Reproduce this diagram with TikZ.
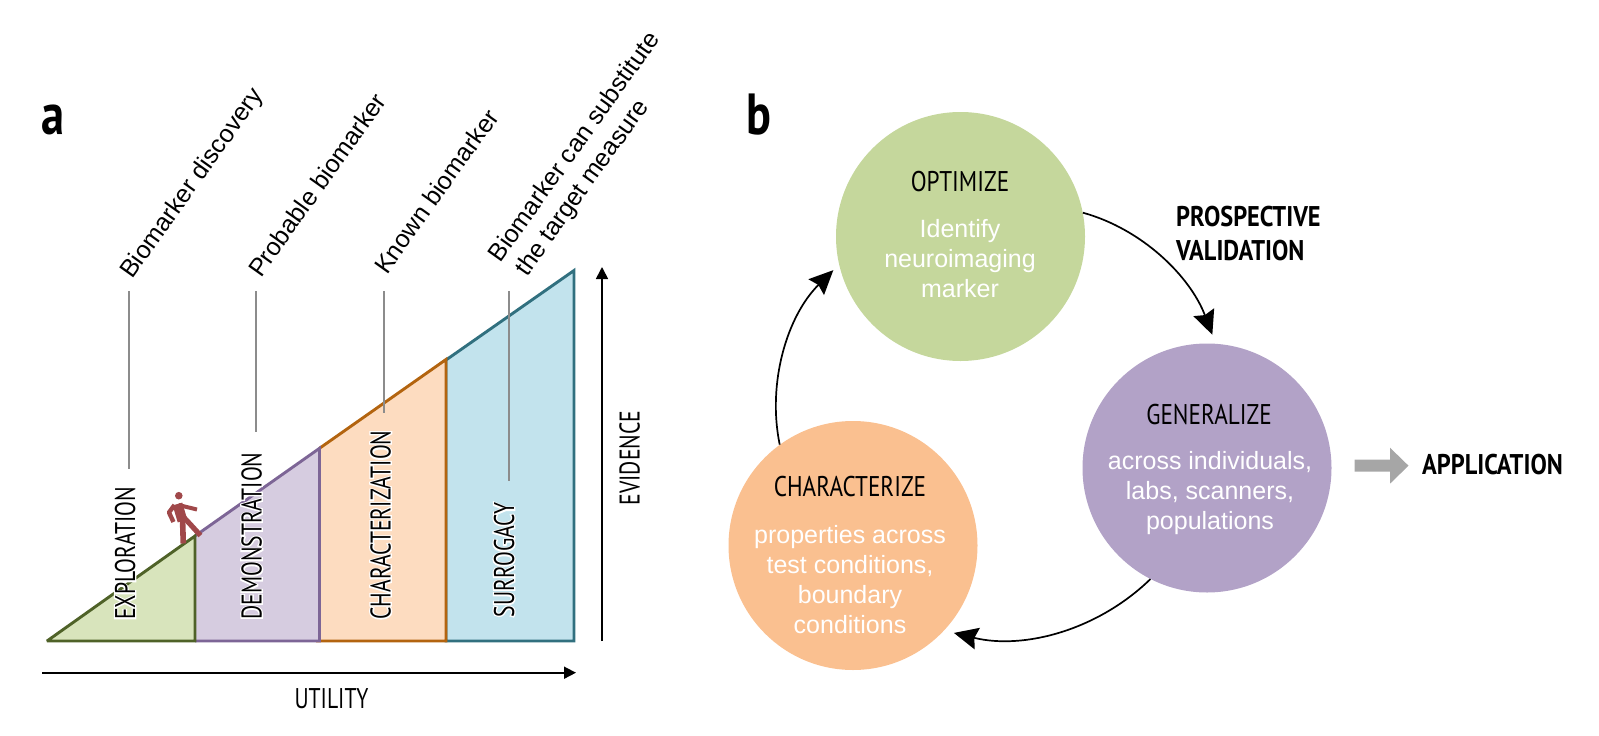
\documentclass[tikz,border=0pt]{standalone}
\usepackage{fontspec}
\usetikzlibrary{arrows.meta,backgrounds}
\setmainfont{Liberation Sans}
\newfontfamily\cond[FakeStretch=0.815]{PT Sans}
\newfontfamily\condv[FakeStretch=0.76]{PT Sans}
\newfontfamily\condh[FakeStretch=0.76,FakeBold=9]{PT Sans}
\newfontfamily\condb[FakeStretch=0.855]{PT Sans Bold}
\newfontfamily\condl[FakeStretch=0.8]{PT Sans Bold}
\newcommand\haloed[1]{\leavevmode\rlap{\condh\textcolor{white}{#1}}#1}
\definecolor{gF}{HTML}{D8E4BC}\definecolor{gS}{HTML}{4F6228}
\definecolor{pF}{HTML}{D6CCE0}\definecolor{pS}{HTML}{7D6596}
\definecolor{oF}{HTML}{FDDCC0}\definecolor{oS}{HTML}{B3640F}
\definecolor{bF}{HTML}{C2E3ED}\definecolor{bS}{HTML}{31707F}
\definecolor{cG}{HTML}{C5D79C}\definecolor{cP}{HTML}{B2A2C7}\definecolor{cO}{HTML}{FAC090}
\definecolor{walker}{HTML}{A0484A}
\tikzset{
  stage/.style={line width=2.9pt,miter limit=3},
  leader/.style={draw=black!45,line width=1.7pt},
  axis/.style={line width=1.7pt,-{Triangle[length=12pt,width=12pt]}},
  cyc/.style={line width=1.7pt,-{Stealth[length=24pt,width=22pt,inset=3pt]}},
  blob/.style={circle,minimum size=249pt,inner sep=0pt},
  capt/.style={inner sep=0pt,text height=20pt,text depth=0pt,font=\fontsize{28.5}{30}\selectfont\cond},
  capv/.style={inner sep=0pt,text height=20pt,text depth=0pt,font=\fontsize{28.5}{30}\selectfont\condv},
  capb/.style={inner sep=0pt,text height=20pt,text depth=0pt,font=\fontsize{28.5}{30}\selectfont\condb},
  vcap/.style={capv,rotate=90},
  body/.style={inner sep=0pt,align=center,text=white,font=\fontsize{25}{30}\selectfont},
  slant/.style={inner sep=0pt,rotate=54.5,anchor=base west,align=left,font=\fontsize{25}{30}\selectfont},
  letter/.style={inner sep=0pt,font=\fontsize{58}{60}\selectfont\condl},
}
\begin{document}
\begin{tikzpicture}[x=1pt,y=-1pt]
\useasboundingbox (0,0) rectangle (1599,736);
% panel a
\draw[stage,draw=bS,fill=bF] (438,365.6) -- (574,270.5) -- (574,641) -- (446,641) -- (446,360);
\draw[stage,draw=oS,fill=oF] (319.5,448.3) -- (446,359.5) -- (446,641) -- (316,641);
\draw[stage,draw=pS,fill=pF] (195,536) -- (319.5,448.3) -- (319.5,641) -- (195,641);
\draw[stage,draw=gS,fill=gF] (47,641) -- (195,536) -- (195,641) -- cycle;
% walker
\fill[walker] (178.8,495.7) circle (3.8);
\draw[walker,line width=10pt] (177.5,504) -- (182.5,521);
\draw[walker,line width=4.4pt,line join=round] (174.5,505) -- (169,512.5) -- (173.5,522);
\draw[walker,line width=4pt] (178.5,505) -- (197,509.5);
\draw[walker,line width=5.6pt,line join=round] (182.5,518) -- (183.3,543.5);
\draw[walker,line width=5.2pt,line join=round] (182.5,516) -- (190,524) -- (200.5,535.5);
% leaders
\coordinate (l1a) at (129,291); \coordinate (l1b) at (129,469);
\coordinate (l2a) at (256,291); \coordinate (l2b) at (256,432);
\coordinate (l3a) at (384,291); \coordinate (l3b) at (384,413);
\coordinate (l4a) at (509,291); \coordinate (l4b) at (509,481);
\draw[leader] (l1a) -- (l1b);
\draw[leader] (l2a) -- (l2b);
\draw[leader] (l3a) -- (l3b);
\draw[leader] (l4a) -- (l4b);
% axes
\coordinate (ux0) at (42,672.7); \coordinate (ux1) at (576,672.7);
\coordinate (ey0) at (602,641); \coordinate (ey1) at (602,267);
\draw[axis] (ux0) -- (ux1);
\draw[axis] (ey0) -- (ey1);
\node[capv] (utility) at (331.5,698) {UTILITY};
\node[vcap] (evidence) at (629.5,458) {EVIDENCE};
\node[vcap] (explor) at (125,553.5) {\haloed{EXPLORATION}};
\node[vcap] (demo) at (251.7,536) {\haloed{DEMONSTRATION}};
\node[vcap] (charz) at (380.7,525) {\haloed{CHARACTERIZATION}};
\node[vcap] (surro) at (504,560) {\haloed{SURROGACY}};
\node[slant] (t1) at (132,280) {Biomarker discovery};
\node[slant] (t2) at (261,279) {Probable biomarker};
\node[slant] (t3) at (387,276) {Known biomarker};
\node[slant] (t4) at (525,281) {Biomarker can substitute\\\hspace{4pt}the target measure};
\node[letter] (a) at (53.5,120) {a};
\node[letter] (b) at (758.5,115) {b};
% panel b
\node[blob,fill=cG] (opt) at (960.5,236.5) {};
\node[blob,fill=cP] (gen) at (1207,468) {};
\node[blob,fill=cO] (cha) at (853,545.5) {};
\node[capt] (optH) at (960,181.7) {OPTIMIZE};
\node[body] (optT) at (960,259) {Identify\\neuroimaging\\marker};
\node[capt] (genH) at (1209,414) {GENERALIZE};
\node[body] (genT) at (1210,493) {across individuals,\\labs, scanners,\\populations};
\node[capt] (chaH) at (850,486.7) {CHARACTERIZE};
\node[body] (chaT) at (850,580) {properties across\\test conditions,\\boundary\\conditions};
\draw[cyc,shorten >=9.5pt] (opt.11.9) .. controls (1142,229) and (1190,276) .. (gen.86.8);
\draw[cyc,shorten >=10pt] (gen.243) .. controls (1098,630) and (1024,650) .. (cha.317);
\draw[cyc,shorten >=8pt] (cha.126.3) .. controls (767,383) and (787,316) .. (opt.193.3);
\node[capb,anchor=west] (pv1) at (1176,216) {PROSPECTIVE};
\node[capb,anchor=west] (pv2) at (1176,250.7) {VALIDATION};
\node[capb,anchor=west] (app) at (1422,464) {APPLICATION};
\coordinate (g0) at (1354.6,465.7);
\fill[black!35] (g0) ++(0,-6) -- ++(35.4,0) -- ++(0,-12) -- ++(18.5,18) -- ++(-18.5,18) -- ++(0,-12) -- ++(-35.4,0) -- cycle;
\end{tikzpicture}
\end{document}
